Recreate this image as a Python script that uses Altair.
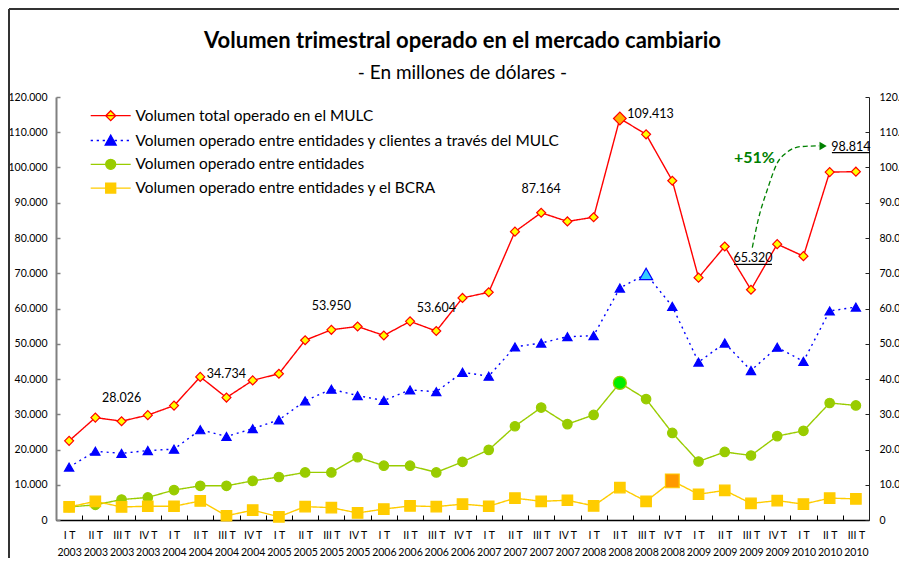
import json
import altair as alt
import pandas as pd

# ---------------- datos ----------------
trimestres = ["I T", "II T", "III T", "IV T"]
anios = ["2003", "2004", "2005", "2006", "2007", "2008", "2009", "2010"]
periodos = [[t, a] for a in anios for t in trimestres][:31]

series = [
    "Volumen total operado en el MULC",
    "Volumen operado entre entidades y clientes a través del MULC",
    "Volumen operado entre entidades",
    "Volumen operado entre entidades y el BCRA",
]

total_mulc = [22450, 29050, 28026, 29750, 32450, 40600, 34734, 39600, 41500, 51000,
              53950, 54900, 52350, 56350, 53604, 63000, 64600, 81800, 87164, 84700,
              85900, 113900, 109413, 96250, 68750, 77600, 65320, 78250, 74850, 98700, 98814]
clientes_mulc = [15000, 19500, 18900, 19700, 20100, 25600, 23700, 25900, 28400, 33800,
                 37100, 35300, 33900, 36900, 36400, 41900, 40800, 49100, 50200, 52000,
                 52300, 65800, 69800, 60600, 44800, 50200, 42400, 49000, 45000, 59300, 60400]
entre_entidades = [3700, 4300, 5800, 6400, 8500, 9700, 9700, 11100, 12200, 13500,
                   13500, 17800, 15400, 15400, 13500, 16500, 19900, 26600, 31900, 27200,
                   29800, 38900, 34300, 24700, 16600, 19300, 18300, 23800, 25300, 33200, 32500]
entidades_bcra = [3700, 5300, 3700, 3900, 3900, 5400, 1200, 2800, 900, 3800,
                  3500, 2000, 3100, 4000, 3800, 4500, 3900, 6200, 5300, 5600,
                  4000, 9200, 5300, 11100, 7300, 8400, 4700, 5500, 4500, 6200, 6000]
valores = [total_mulc, clientes_mulc, entre_entidades, entidades_bcra]

# punto destacado de cada serie (índice del trimestre)
destacados = [21, 22, 21, 23]

# etiquetas de valor sobre la serie total
etiquetas_normales = [2, 6, 10, 14, 18]
etiqueta_maximo = 22
etiqueta_minimo = 26
etiqueta_final = 30

# flecha "+51%" (curva de anotación, en unidades de trimestre / millones)
flecha_i = [26.05, 26.27, 26.65, 26.99, 27.37, 27.87, 28.6]
flecha_v = [77300, 85000, 94300, 101100, 104300, 105900, 106150]
punta_i = [28.75]
punta_v = [106100]

# ---------------- estilos ----------------
ROJO, AZUL, VERDE, AMARILLO = "#FF0000", "#0000FF", "#99CC00", "#FFCC00"
estilos = [
    dict(stroke=ROJO, fill="#FFFF00", shape="diamond", size=80, dash=[1, 0], hl="#FFB000", hls=160),
    dict(stroke=AZUL, fill=AZUL, shape="triangle-up", size=85, dash=[2, 4], hl="#33CCFF", hls=170),
    dict(stroke=VERDE, fill=VERDE, shape="circle", size=90, dash=[1, 0], hl="#00EE00", hls=170),
    dict(stroke=AMARILLO, fill=AMARILLO, shape="square", size=110, dash=[1, 0], hl="#FF9900", hls=190),
]

FUENTE = "Lato"
ancho, alto = 813, 423
paso = ancho / len(periodos)

XS = alt.Scale(domain=[-0.5, len(periodos) - 0.5], nice=False, zero=False)
YS = alt.Scale(domain=[0, 120000], nice=False)


def X(axis=None, field="i"):
    return alt.X(f"{field}:Q", scale=XS, axis=axis)


def Y(axis=None, field="v"):
    return alt.Y(f"{field}:Q", scale=YS, axis=axis)


def expr_periodo(pos):
    partes = [f"datum.value == {k - 0.5} ? {json.dumps(p[pos])}" for k, p in enumerate(periodos)]
    return " : ".join(partes) + " : ''"


fmt_miles = "replace(format(datum.value, ',d'), ',', '.')"
valores_y = list(range(0, 120001, 10000))
valores_x = [k - 0.5 for k in range(len(periodos) + 1)]

comun_x = dict(
    orient="bottom", title=None, grid=False, values=valores_x,
    labelOffset=paso / 2, labelFlush=False, labelOverlap=False,
    labelFont=FUENTE, labelFontSize=10.5, labelColor="black",
    labelAlign="center", labelBaseline="top",
)
eje_x = alt.Axis(
    labelExpr=expr_periodo(0), labelPadding=15,
    tickSize={"expr": "-5"}, tickColor="black", tickWidth=1,
    domainColor="black", domainWidth=1.5, **comun_x,
)
eje_x_anios = alt.Axis(
    labelExpr=expr_periodo(1), labelPadding=27, ticks=False, domain=False, **comun_x,
)
eje_izq = alt.Axis(
    orient="left", title=None, grid=False, values=valores_y, labelExpr=fmt_miles,
    labelFont=FUENTE, labelFontSize=10.5, labelColor="black", labelPadding=13,
    tickSize={"expr": "-4"}, tickColor="#808080", tickWidth=1.5,
    domainColor="#808080", domainWidth=2,
)
eje_der = alt.Axis(
    orient="right", title=None, grid=False, values=valores_y, labelExpr=fmt_miles,
    labelFont=FUENTE, labelFontSize=10.5, labelColor="black", labelPadding=14,
    tickSize={"expr": "-4"}, tickColor="#222222", tickWidth=1,
    domainColor="#222222", domainWidth=1,
)

filas = []
for s, vals in zip(series, valores):
    for i, v in enumerate(vals):
        filas.append({"serie": s, "i": i, "v": v})
df = pd.DataFrame(filas)

capas = []
for k, s in enumerate(series):
    e = estilos[k]
    d = df[df.serie == s]
    linea = alt.Chart(d).mark_line(color=e["stroke"], strokeWidth=1.4, strokeDash=e["dash"]).encode(
        x=X(eje_x if k == 0 else None), y=Y(eje_izq if k == 0 else None)
    )
    normales = d[d.i != destacados[k]]
    puntos = alt.Chart(normales).mark_point(
        shape=e["shape"], size=e["size"], filled=True, fill=e["fill"], stroke=e["stroke"],
        strokeWidth=1.2, opacity=1,
    ).encode(x=X(), y=Y())
    hl = d[d.i == destacados[k]]
    punto_hl = alt.Chart(hl).mark_point(
        shape=e["shape"], size=e["hls"], filled=True, fill=e["hl"], stroke=e["stroke"],
        strokeWidth=1.2, opacity=1,
    ).encode(x=X(), y=Y())
    capas += [linea, puntos, punto_hl]

# eje derecho (misma escala) y segunda línea de etiquetas del eje x (años)
capas.append(
    alt.Chart(df[df.serie == series[0]]).mark_point(opacity=0).encode(x=X(eje_x_anios), y=Y(eje_der))
)

# etiquetas de valores
def etiquetas(indices):
    return pd.DataFrame({
        "i": indices,
        "v": [total_mulc[j] for j in indices],
        "t": [f"{total_mulc[j]:,}".replace(",", ".") for j in indices],
    })

txt = dict(font=FUENTE, fontSize=12.5, color="black", baseline="middle", align="center")
capas.append(alt.Chart(etiquetas(etiquetas_normales)).mark_text(dy=-23.5, **txt).encode(x=X(), y=Y(), text="t:N"))
capas.append(alt.Chart(etiquetas([etiqueta_maximo])).mark_text(dy=-20, dx=4.5, **txt).encode(x=X(), y=Y(), text="t:N"))
capas.append(alt.Chart(etiquetas([etiqueta_minimo])).mark_text(dy=-31.5, dx=2, **txt).encode(x=X(), y=Y(), text="t:N"))
capas.append(alt.Chart(etiquetas([etiqueta_final])).mark_text(dy=-25, dx=-5, **txt).encode(x=X(), y=Y(), text="t:N"))
capas.append(alt.Chart(etiquetas([etiqueta_minimo])).mark_tick(
    orient="horizontal", size=38, thickness=1.2, color="black", yOffset=-25.3, xOffset=2, opacity=1
).encode(x=X(), y=Y()))
capas.append(alt.Chart(etiquetas([etiqueta_final])).mark_tick(
    orient="horizontal", size=38, thickness=1.2, color="black", yOffset=-19, xOffset=-5, opacity=1
).encode(x=X(), y=Y()))

# variación porcentual y flecha
variacion = round((total_mulc[etiqueta_final] / total_mulc[etiqueta_minimo] - 1) * 100)
df_var = pd.DataFrame({"i": [etiqueta_minimo], "v": [total_mulc[etiqueta_final]], "t": [f"+{variacion}%"]})
capas.append(alt.Chart(df_var).mark_text(
    font=FUENTE, fontSize=16, fontWeight="bold", color="#008000", dy=-14, dx=3.5,
    baseline="middle", align="center"
).encode(x=X(), y=Y(), text="t:N"))
capas.append(alt.Chart(pd.DataFrame({"i": flecha_i, "v": flecha_v})).mark_line(
    interpolate="monotone", color="#008000", strokeDash=[5, 3], strokeWidth=1.3
).encode(x=X(), y=Y()))
capas.append(alt.Chart(pd.DataFrame({"i": punta_i, "v": punta_v})).mark_point(
    shape="triangle-right", filled=True, color="#008000", size=70, opacity=1
).encode(x=X(), y=Y()))

# leyenda
linea_leyenda = "M-4,0L4,0"
punteado = "".join(f"M{a:.2f},0L{a + 0.45:.2f},0" for a in [-4 + 1.2 * n for n in range(7)])
formas = [
    linea_leyenda + "M0,-1L1,0L0,1L-1,0Z",
    punteado + "M0,-1.1L1.1,0.9L-1.1,0.9Z",
    linea_leyenda + "M-1,0A1,1,0,1,0,1,0A1,1,0,1,0,-1,0Z",
    linea_leyenda + "M-1,-1L1,-1L1,1L-1,1Z",
]
leyenda = alt.Legend(
    title=None, orient="none", legendX=47, legendY=11, padding=0,
    symbolSize=100, symbolStrokeWidth=1.3, symbolOpacity=1,
    labelFont=FUENTE, labelFontSize=15.4, labelColor="black", labelOffset=17,
    rowPadding=6.8, labelLimit=700,
)
capas.append(alt.Chart(pd.DataFrame({"serie": series})).mark_point(filled=True).encode(
    x=alt.value(0), y=alt.value(0), opacity=alt.value(0),
    fill=alt.Fill("serie:N", scale=alt.Scale(domain=series, range=[e["fill"] for e in estilos]), legend=leyenda),
    stroke=alt.Stroke("serie:N", scale=alt.Scale(domain=series, range=[e["stroke"] for e in estilos]), legend=leyenda),
    shape=alt.Shape("serie:N", scale=alt.Scale(domain=series, range=formas), legend=leyenda),
))

# marco exterior
uno = pd.DataFrame({"k": [0]})
capas.append(alt.Chart(uno).mark_rule(color="#333333", strokeWidth=2).encode(
    x=alt.value(-47), y=alt.value(-88), y2=alt.value(462)))
capas.append(alt.Chart(uno).mark_rule(color="#333333", strokeWidth=2).encode(
    x=alt.value(-47), x2=alt.value(843), y=alt.value(-88)))

chart = alt.layer(*capas).resolve_scale(y="independent").resolve_axis(x="independent").properties(
    width=ancho, height=alto,
    autosize=alt.AutoSizeParams(type="none"),
    padding={"left": 48, "top": 89, "right": 30, "bottom": 38},
    background="white",
    title=alt.TitleParams(
        "Volumen trimestral operado en el mercado cambiario",
        subtitle="- En millones de dólares -",
        font=FUENTE, fontSize=22, fontWeight="bold", color="black",
        subtitleFont=FUENTE, subtitleFontSize=19, subtitleColor="black",
        anchor="middle", frame="group", offset=-76, subtitlePadding=11,
    ),
).configure_view(stroke=None)

chart.save("out.html", embed_options={"renderer": "svg", "actions": False})
